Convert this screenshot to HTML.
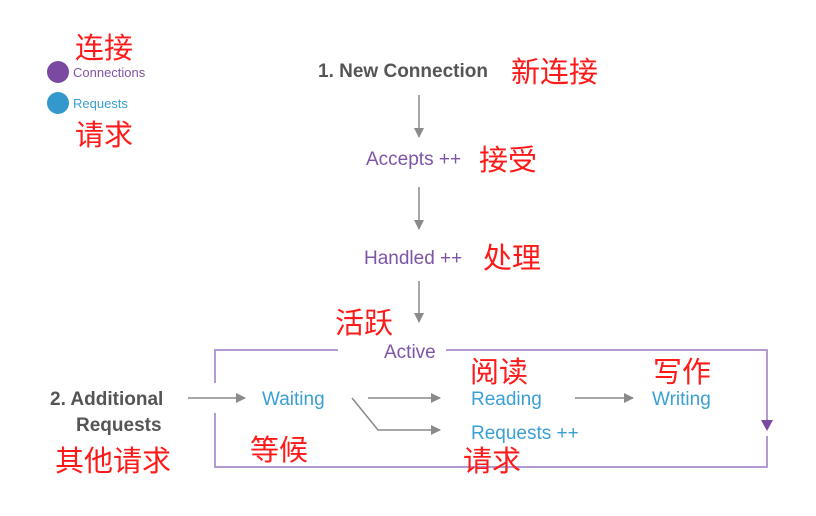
<!DOCTYPE html>
<html><head><meta charset="utf-8"><style>
html,body{margin:0;padding:0;background:#fff;width:816px;height:516px;overflow:hidden}
svg text{font-family:"Liberation Sans","Noto Sans CJK SC",sans-serif}
.cn{fill:#ff1a1a;font-size:29px;font-family:"Liberation Sans","Noto Sans CJK SC",sans-serif}
.p{fill:#7e55a6;font-size:19px}
.b{fill:#3a9fd3;font-size:19px}
.g{fill:#555;font-size:19px;font-weight:bold}
</style></head><body>
<svg width="816" height="516" viewBox="0 0 816 516" xmlns="http://www.w3.org/2000/svg">
<defs>
<marker id="ah" markerWidth="10" markerHeight="10" refX="9" refY="5" orient="auto" markerUnits="userSpaceOnUse"><path d="M0,0 L10,5 L0,10 z" fill="#8a8a8a"/></marker>
</defs>
<!-- legend -->
<circle cx="58" cy="72" r="11" fill="#7a4aa3"/>
<circle cx="58" cy="103" r="11" fill="#3399cc"/>
<text x="73" y="77" style="fill:#7e55a6;font-size:13px">Connections</text>
<text x="73" y="108" style="fill:#3a9fd3;font-size:13px">Requests</text>
<text class="cn" x="75" y="58">连接</text>
<text class="cn" x="75" y="145">请求</text>
<!-- top flow -->
<text class="g" x="318" y="77">1. New Connection</text>
<text class="cn" x="511" y="82">新连接</text>
<line x1="419" y1="95" x2="419" y2="137" stroke="#8a8a8a" stroke-width="1.5" marker-end="url(#ah)"/>
<text class="p" x="366" y="165">Accepts ++</text>
<text class="cn" x="479" y="170">接受</text>
<line x1="419" y1="187" x2="419" y2="229" stroke="#8a8a8a" stroke-width="1.5" marker-end="url(#ah)"/>
<text class="p" x="364" y="264">Handled ++</text>
<text class="cn" x="483" y="268">处理</text>
<line x1="419" y1="281" x2="419" y2="322" stroke="#8a8a8a" stroke-width="1.5" marker-end="url(#ah)"/>
<text class="cn" x="335" y="333">活跃</text>
<!-- active box -->
<g stroke="#b39ad0" stroke-width="2" fill="none">
<polyline points="338,350 215,350 215,383"/>
<polyline points="446,350 767,350 767,420"/>
<polyline points="215,413 215,467 767,467 767,436"/>
</g>
<path d="M761,420 L773,420 L767,431 z" fill="#7a4aa3"/>
<text class="p" x="384" y="358">Active</text>
<!-- additional requests -->
<text class="g" x="50" y="405">2. Additional</text>
<text class="g" x="76" y="431">Requests</text>
<text class="cn" x="55" y="471">其他请求</text>
<line x1="188" y1="398" x2="245" y2="398" stroke="#8a8a8a" stroke-width="1.5" marker-end="url(#ah)"/>
<text class="b" x="262" y="405">Waiting</text>
<text class="cn" x="250" y="460">等候</text>
<line x1="368" y1="398" x2="440" y2="398" stroke="#8a8a8a" stroke-width="1.5" marker-end="url(#ah)"/>
<polyline points="352,398 378,430 440,430" stroke="#8a8a8a" stroke-width="1.5" fill="none" marker-end="url(#ah)"/>
<text class="b" x="471" y="405">Reading</text>
<text class="b" x="471" y="439">Requests ++</text>
<text class="cn" x="470" y="382">阅读</text>
<text class="cn" x="463" y="471">请求</text>
<line x1="575" y1="398" x2="633" y2="398" stroke="#8a8a8a" stroke-width="1.5" marker-end="url(#ah)"/>
<text class="b" x="652" y="405">Writing</text>
<text class="cn" x="653" y="382">写作</text>
</svg>
</body></html>
